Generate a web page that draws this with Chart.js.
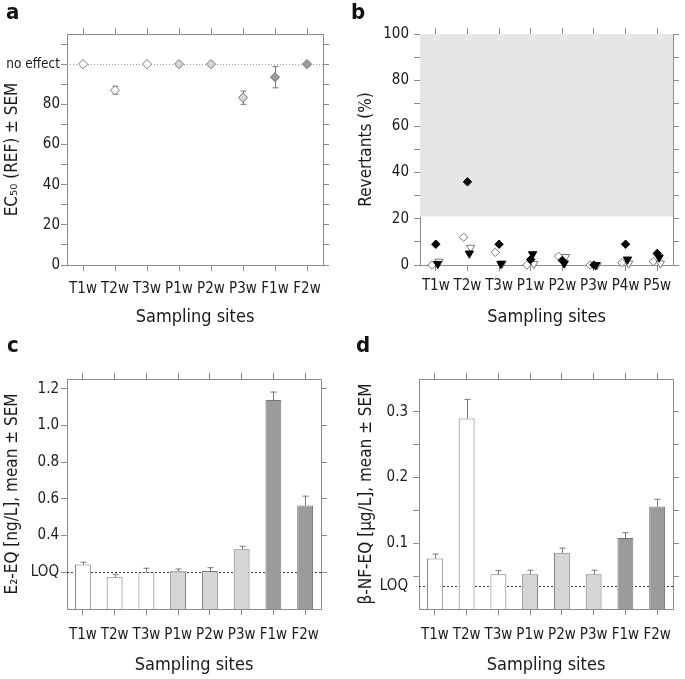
<!DOCTYPE html>
<html>
<head>
<meta charset="utf-8">
<title>Bioassay results by sampling site</title>
<script src="https://cdn.jsdelivr.net/npm/chart.js@4.4.1/dist/chart.umd.min.js"></script>
<style>
  html, body { margin: 0; padding: 0; background: #fff; }
  #wrap { position: relative; width: 685px; height: 679px; overflow: hidden; }
  .panel { position: absolute; }
  .tag {
    position: absolute;
    font: bold 22px "DejaVu Sans Condensed", "Liberation Sans Narrow", sans-serif;
    line-height: 1;
    color: #111;
  }
</style>
</head>
<body>
<div id="wrap">
  <div class="panel" style="left:0;top:0;width:342px;height:335px"><canvas id="chartA"></canvas></div>
  <div class="panel" style="left:342px;top:0;width:343px;height:335px"><canvas id="chartB"></canvas></div>
  <div class="panel" style="left:0;top:340px;width:342px;height:339px"><canvas id="chartC"></canvas></div>
  <div class="panel" style="left:342px;top:340px;width:343px;height:339px"><canvas id="chartD"></canvas></div>
  <div class="tag" style="left:6px;top:1px">a</div>
  <div class="tag" style="left:351px;top:1px">b</div>
  <div class="tag" style="left:7px;top:334px">c</div>
  <div class="tag" style="left:356px;top:334px">d</div>
</div>

<script>
// ── Data ──

// a: cytotoxicity, EC50 in REF
const SITES_A = ["T1w", "T2w", "T3w", "P1w", "P2w", "P3w", "F1w", "F2w"];
const EC50_MEAN = [100, 87, 100, 100, 100, 83.3, 93.5, 100];
const EC50_SEM = [0, 2, 0, 0, 0, 3.3, 5.3, 0];
const NO_EFFECT = 100;

// b: mutagenicity, revertants in %
const SITES_B = ["T1w", "T2w", "T3w", "P1w", "P2w", "P3w", "P4w", "P5w"];
const REV_FILLED_DIAMOND = [9, 36, 9, 2.4, 2, 0, 9, 5];
const REV_FILLED_TRIANGLE = [0.5, 5, 0.5, 4.7, 0.7, 0, 2.4, 3.3];
const REV_OPEN_DIAMOND = [0, 12, 5.5, 0, 3.8, 0, 1, 1.5];
const REV_OPEN_TRIANGLE = [1.5, 7.5, 0.7, 0.5, 3.5, 0, 0.7, 0.7];
const REV_THRESHOLD = 21;

// c: estrogenic activity
const SITES_C = ["T1w", "T2w", "T3w", "P1w", "P2w", "P3w", "F1w", "F2w"];
const E2_MEAN = [0.242, 0.173, 0.2, 0.206, 0.207, 0.326, 1.138, 0.564];
const E2_SEM = [0.013, 0.016, 0.022, 0.012, 0.018, 0.016, 0.044, 0.051];
const E2_LOQ = 0.2;
const E2_TICKS = [0.2, 0.4, 0.6, 0.8, 1.0, 1.2];

// d: dioxin-like activity
const SITES_D = ["T1w", "T2w", "T3w", "P1w", "P2w", "P3w", "F1w", "F2w"];
const BNF_MEAN = [0.077, 0.29, 0.053, 0.053, 0.0856, 0.0527, 0.108, 0.156];
const BNF_SEM = [0.0066, 0.029, 0.0058, 0.006, 0.007, 0.0063, 0.008, 0.011];
const BNF_LOQ = 0.035;
const BNF_TICKS = [0.05, 0.1, 0.15, 0.2, 0.25, 0.3];

// ── Shared look ──

const FONT = '"DejaVu Sans Condensed", "Liberation Sans Narrow", "Arial Narrow", sans-serif';
const AXIS_GREY = "#8c8c8c";
const EDGE = "#777777";
const GROUP_FILL = { T: "#ffffff", P: "#d6d6d6", F: "#9b9b9b" };
const groupFill = (site) => GROUP_FILL[site[0]] || "#ffffff";

Chart.defaults.font.family = FONT;
Chart.defaults.font.size = 15;
Chart.defaults.color = "#1a1a1a";
Chart.defaults.animation = false;
Chart.defaults.plugins.legend.display = false;
Chart.defaults.plugins.tooltip.enabled = false;

const fixW = (w) => (axis) => { axis.width = w; };
const fixH = (h) => (axis) => { axis.height = h; };
const siteTicks = (sites) => (axis) => { axis.ticks = sites.map((_, i) => ({ value: i + 1 })); };
const valueTicks = (vals) => (axis) => { axis.ticks = vals.map((v) => ({ value: v })); };

function framed(opts) {
    return Object.assign({
        z: 1,
        border: { color: AXIS_GREY, width: 1 },
        grid: {
            drawOnChartArea: false,
            drawTicks: true,
            tickLength: 6,
            color: AXIS_GREY,
            tickColor: AXIS_GREY,
            offset: false,
        },
    }, opts);
}

function xTitle(bottomPad) {
    return { display: true, text: "Sampling sites", font: { size: 18 }, padding: { top: 0, bottom: bottomPad } };
}

function yTitle(text, leftPad) {
    return { display: true, text, font: { size: 17 }, padding: { top: leftPad, bottom: 0 } };
}

// ── Small drawing plugins (everything through the chart's scales) ──

const shadeBand = {
    id: "shadeBand",
    beforeDatasetsDraw(chart, args, opts) {
        if (opts.from == null) return;
        const { ctx, chartArea: a } = chart;
        const y = chart.scales.y;
        const top = y.getPixelForValue(opts.to);
        const bottom = y.getPixelForValue(opts.from);
        ctx.save();
        ctx.fillStyle = opts.color;
        ctx.fillRect(a.left, top, a.right - a.left, bottom - top);
        ctx.restore();
    },
};

const refLine = {
    id: "refLine",
    beforeDatasetsDraw(chart, args, opts) {
        if (opts.value == null) return;
        const { ctx, chartArea: a } = chart;
        const py = Math.round(chart.scales.y.getPixelForValue(opts.value)) + 0.5;
        ctx.save();
        ctx.strokeStyle = opts.color;
        ctx.lineWidth = opts.width || 1;
        ctx.setLineDash(opts.dash || []);
        ctx.beginPath();
        ctx.moveTo(a.left, py);
        ctx.lineTo(a.right, py);
        ctx.stroke();
        ctx.restore();
    },
};

const errorBars = {
    id: "errorBars",
    beforeDatasetsDraw(chart, args, opts) {
        if (!opts.sem) return;
        const { ctx } = chart;
        const y = chart.scales.y;
        const meta = chart.getDatasetMeta(0);
        const values = chart.data.datasets[0].data;
        const cap = opts.cap || 3;
        ctx.save();
        ctx.strokeStyle = opts.color || EDGE;
        ctx.lineWidth = 1;
        meta.data.forEach((el, i) => {
            const s = opts.sem[i];
            if (!s) return;
            const v = typeof values[i] === "object" ? values[i].y : values[i];
            const top = y.getPixelForValue(v + s);
            const bottom = y.getPixelForValue(opts.upOnly ? v : v - s);
            const x = Math.round(el.x) + 0.5;
            ctx.beginPath();
            ctx.moveTo(x, top);
            ctx.lineTo(x, bottom);
            ctx.moveTo(x - cap, top);
            ctx.lineTo(x + cap, top);
            if (!opts.upOnly) {
                ctx.moveTo(x - cap, bottom);
                ctx.lineTo(x + cap, bottom);
            }
            ctx.stroke();
        });
        ctx.restore();
    },
};

const PLUGINS = [shadeBand, refLine, errorBars];

// ── a: EC50 diamonds ──

new Chart(document.getElementById("chartA"), {
    type: "scatter",
    data: {
        datasets: [{
            label: "EC50",
            data: SITES_A.map((s, i) => ({ x: i + 1, y: EC50_MEAN[i] })),
            pointStyle: "rectRot",
            pointRadius: 4.6,
            pointBackgroundColor: SITES_A.map(groupFill),
            pointBorderColor: EDGE,
            pointBorderWidth: 1,
            clip: false,
        }],
    },
    options: {
        responsive: true,
        maintainAspectRatio: false,
        layout: { padding: 0 },
        plugins: {
            refLine: { value: NO_EFFECT, color: "#a0a0a0", dash: [1, 2] },
            errorBars: { sem: EC50_SEM, cap: 3, color: EDGE },
        },
        scales: {
            x: framed({
                type: "linear", min: 0.5, max: 8.5,
                afterBuildTicks: siteTicks(SITES_A),
                ticks: { callback: (v) => SITES_A[v - 1], padding: 9, maxRotation: 0, autoSkip: false },
                title: xTitle(7),
                afterFit: fixH(70),
            }),
            x2: framed({
                type: "linear", position: "top", min: 0.5, max: 8.5,
                afterBuildTicks: siteTicks(SITES_A),
                ticks: { display: false },
                afterFit: fixH(34),
            }),
            y: framed({
                min: 0, max: 115,
                ticks: {
                    stepSize: 10, includeBounds: false, autoSkip: false, padding: 1,
                    font: (ctx) => ({ size: ctx.tick && ctx.tick.value === NO_EFFECT ? 13.5 : 15 }),
                    callback: (v) => (v === NO_EFFECT ? "no effect" : v % 20 === 0 ? v : ""),
                },
                title: yTitle("EC\u2085\u2080 (REF) \u00b1 SEM", 2),
                afterFit: fixW(67),
            }),
            y2: framed({
                position: "right", min: 0, max: 115,
                ticks: { display: false, stepSize: 10, includeBounds: false },
                afterFit: fixW(19),
            }),
        },
    },
    plugins: PLUGINS,
});

// ── b: revertants ──

function revSeries(label, values, offset, style, fill, edge, radius) {
    return {
        label,
        data: SITES_B.map((s, i) => ({ x: i + 1 + offset, y: values[i] })),
        pointStyle: style,
        pointRotation: style === "triangle" ? 180 : 0,
        pointRadius: radius,
        pointBackgroundColor: fill,
        pointBorderColor: edge,
        pointBorderWidth: 1,
        clip: false,
    };
}

new Chart(document.getElementById("chartB"), {
    type: "scatter",
    data: {
        datasets: [
            revSeries("filled diamond", REV_FILLED_DIAMOND, 0.0, "rectRot", "#000", "#000", 4.2),
            revSeries("filled triangle", REV_FILLED_TRIANGLE, 0.06, "triangle", "#000", "#000", 4.8),
            revSeries("open triangle", REV_OPEN_TRIANGLE, 0.1, "triangle", "#fff", EDGE, 4.8),
            revSeries("open diamond", REV_OPEN_DIAMOND, -0.12, "rectRot", "#fff", EDGE, 4.2),
        ],
    },
    options: {
        responsive: true,
        maintainAspectRatio: false,
        layout: { padding: 0 },
        plugins: {
            shadeBand: { from: REV_THRESHOLD, to: 100, color: "#e6e6e6" },
        },
        scales: {
            x: framed({
                type: "linear", min: 0.5, max: 8.5,
                afterBuildTicks: siteTicks(SITES_B),
                ticks: { callback: (v) => SITES_B[v - 1], padding: 6, maxRotation: 0, autoSkip: false },
                title: xTitle(7),
                afterFit: fixH(70),
            }),
            x2: framed({
                type: "linear", position: "top", min: 0.5, max: 8.5,
                afterBuildTicks: siteTicks(SITES_B),
                ticks: { display: false },
                afterFit: fixH(34),
            }),
            y: framed({
                min: 0, max: 100,
                ticks: {
                    stepSize: 10, autoSkip: false, padding: 5,
                    callback: (v) => (v % 20 === 0 ? v : ""),
                },
                title: yTitle("Revertants (%)", 14),
                afterFit: fixW(78),
            }),
            y2: framed({
                position: "right", min: 0, max: 100,
                ticks: { display: false, stepSize: 10 },
                afterFit: fixW(12),
            }),
        },
    },
    plugins: PLUGINS,
});

// ── c / d: bar panels ──

function barPanel(canvasId, sites, means, sems, loq, tickVals, yMax, yLabel, yFmt, opt) {
    return new Chart(document.getElementById(canvasId), {
        type: "bar",
        data: {
            labels: sites,
            datasets: [{
                label: yLabel,
                data: means,
                backgroundColor: sites.map(groupFill),
                borderColor: EDGE,
                borderWidth: 1,
                barPercentage: 0.5,
                categoryPercentage: 1.0,
            }],
        },
        options: {
            responsive: true,
            maintainAspectRatio: false,
            layout: { padding: 0 },
            plugins: {
                refLine: { value: loq, color: "#333", dash: [2, 2] },
                errorBars: { sem: sems, upOnly: true, cap: 3, color: EDGE },
            },
            scales: {
                x: framed({
                    type: "category", offset: true,
                    ticks: { padding: 11, maxRotation: 0, autoSkip: false },
                    title: xTitle(3),
                    afterFit: fixH(70),
                }),
                x2: framed({
                    type: "category", position: "top", offset: true,
                    ticks: { display: false },
                    afterFit: fixH(39),
                }),
                y: framed({
                    min: 0, max: yMax,
                    afterBuildTicks: valueTicks([loq, ...tickVals.filter((v) => v !== loq)]),
                    grid: {
                        drawOnChartArea: false,
                        drawTicks: true,
                        tickLength: 6,
                        color: AXIS_GREY,
                        tickColor: (ctx) => (ctx.tick && ctx.tick.value === loq && !tickVals.includes(loq) ? "rgba(0,0,0,0)" : AXIS_GREY),
                    },
                    ticks: {
                        autoSkip: false, padding: opt.tickPad,
                        callback: (v) => (v === loq ? "LOQ" : yFmt(v)),
                    },
                    title: yTitle(yLabel, opt.titlePad),
                    afterFit: fixW(opt.left),
                }),
                y2: framed({
                    position: "right", min: 0, max: yMax,
                    afterBuildTicks: valueTicks(tickVals),
                    ticks: { display: false },
                    afterFit: fixW(opt.right),
                }),
            },
        },
        plugins: PLUGINS,
    });
}

barPanel("chartC", SITES_C, E2_MEAN, E2_SEM, E2_LOQ, E2_TICKS, 1.253,
    "E\u2082-EQ [ng/L], mean \u00b1 SEM",
    (v) => v.toFixed(1),
    { left: 67, right: 21, tickPad: 2, titlePad: 2 });

barPanel("chartD", SITES_D, BNF_MEAN, BNF_SEM, BNF_LOQ, BNF_TICKS, 0.35,
    "\u03b2-NF-EQ [\u00b5g/L], mean \u00b1 SEM",
    (v) => (Math.abs(v * 10 - Math.round(v * 10)) < 1e-9 ? v.toFixed(1) : ""),
    { left: 77, right: 12, tickPad: 5, titlePad: 14 });
</script>
</body>
</html>
